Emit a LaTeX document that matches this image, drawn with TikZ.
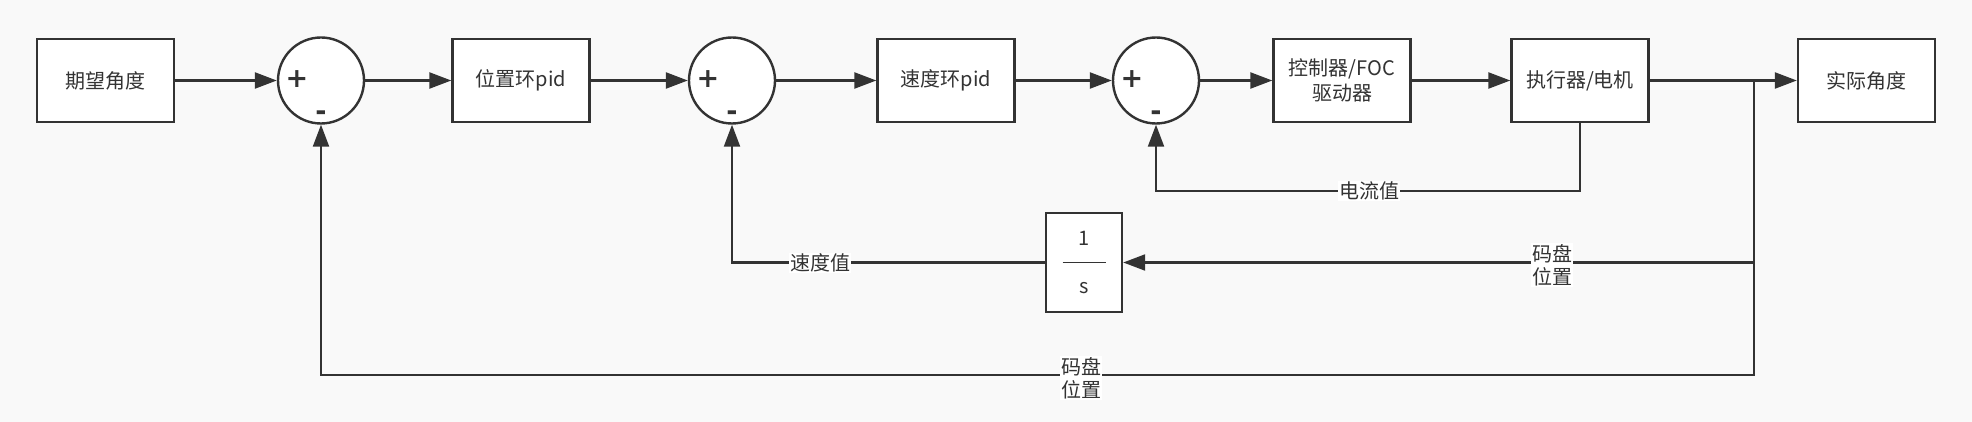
\documentclass[tikz,border=0pt]{standalone}
\usepackage{fontspec}
\setmainfont{Noto Sans CJK SC}
\newfontfamily\signfont{DejaVu Sans}
\usetikzlibrary{arrows.meta}
\definecolor{ink}{HTML}{333333}
\definecolor{bgc}{HTML}{F9F9F9}
\begin{document}
\begin{tikzpicture}[x=1pt,y=-1pt,
  blk/.style={draw=ink, fill=white, line width=2.4pt, minimum width=137pt, minimum height=83pt, inner sep=0pt, font=\fontsize{20}{25}\selectfont, text=ink, align=center},
  sumc/.style={circle, draw=ink, fill=white, line width=2.4pt, minimum size=86pt, inner sep=0pt},
  sgn/.style={font=\signfont\bfseries\fontsize{27}{27}\selectfont, text=ink, inner sep=0pt},
  flow/.style={draw=ink, line width=2.4pt, -{Triangle[length=22pt,width=16pt]}},
  wire/.style={draw=ink, line width=2.2pt},
  lbl/.style={fill=white, inner sep=1pt, font=\fontsize{20}{23}\selectfont, text=ink, align=center}
]
\fill[bgc] (0,0) rectangle (1972,422);
\useasboundingbox (0,0) rectangle (1972,422);

\node[blk] (b1) at (105.5,80.5) {期望角度};
\node[sumc] (s1) at (321,80.5) {};
\node[blk] (b2) at (521,80.5) {位置环pid};
\node[sumc] (s2) at (732,80.5) {};
\node[blk] (b3) at (946,80.5) {速度环pid};
\node[sumc] (s3) at (1156,80.5) {};
\node[blk] (b4) at (1342,80.5) {控制器/FOC\\驱动器};
\node[blk] (b5) at (1580,80.5) {执行器/电机};
\node[blk] (b6) at (1866.5,80.5) {实际角度};
\node[blk, minimum width=76pt, minimum height=99pt, font=\fontsize{20}{24}\selectfont] (int) at (1084,262.5) {1\\\rule[7pt]{43pt}{0.9pt}\\s};

\node[sgn] (p1) at (297,79) {+};
\node[sgn] (m1) at (321,116) {-};
\node[sgn] (p2) at (708,79) {+};
\node[sgn] (m2) at (732,116) {-};
\node[sgn] (p3) at (1132,79) {+};
\node[sgn] (m3) at (1156,116) {-};

\coordinate (j) at (1754,80.5);
\coordinate (cur) at (1580,191);
\coordinate (bot) at (1754,375);

\draw[flow] (b1) -- (s1);
\draw[flow] (s1) -- (b2);
\draw[flow] (b2) -- (s2);
\draw[flow] (s2) -- (b3);
\draw[flow] (b3) -- (s3);
\draw[flow] (s3) -- (b4);
\draw[flow] (b4) -- (b5);
\draw[flow] (b5) -- (b6);

\draw[wire, -{Triangle[length=22pt,width=16pt]}] (b5.south) -- (cur) -| (s3.south);
\draw[wire, -{Triangle[length=22pt,width=16pt]}] (j) |- (int.east);
\draw[wire, -{Triangle[length=22pt,width=16pt]}] (int.west) -| (s2.south);
\draw[wire, -{Triangle[length=22pt,width=16pt]}] (j) -- (bot) -| (s1.south);

\node[lbl] (l1) at (1369,191) {电流值};
\node[lbl] (l2) at (820,263) {速度值};
\node[lbl] (l3) at (1552,265) {码盘\\位置};
\node[lbl] (l4) at (1081,378) {码盘\\位置};
\end{tikzpicture}
\end{document}
